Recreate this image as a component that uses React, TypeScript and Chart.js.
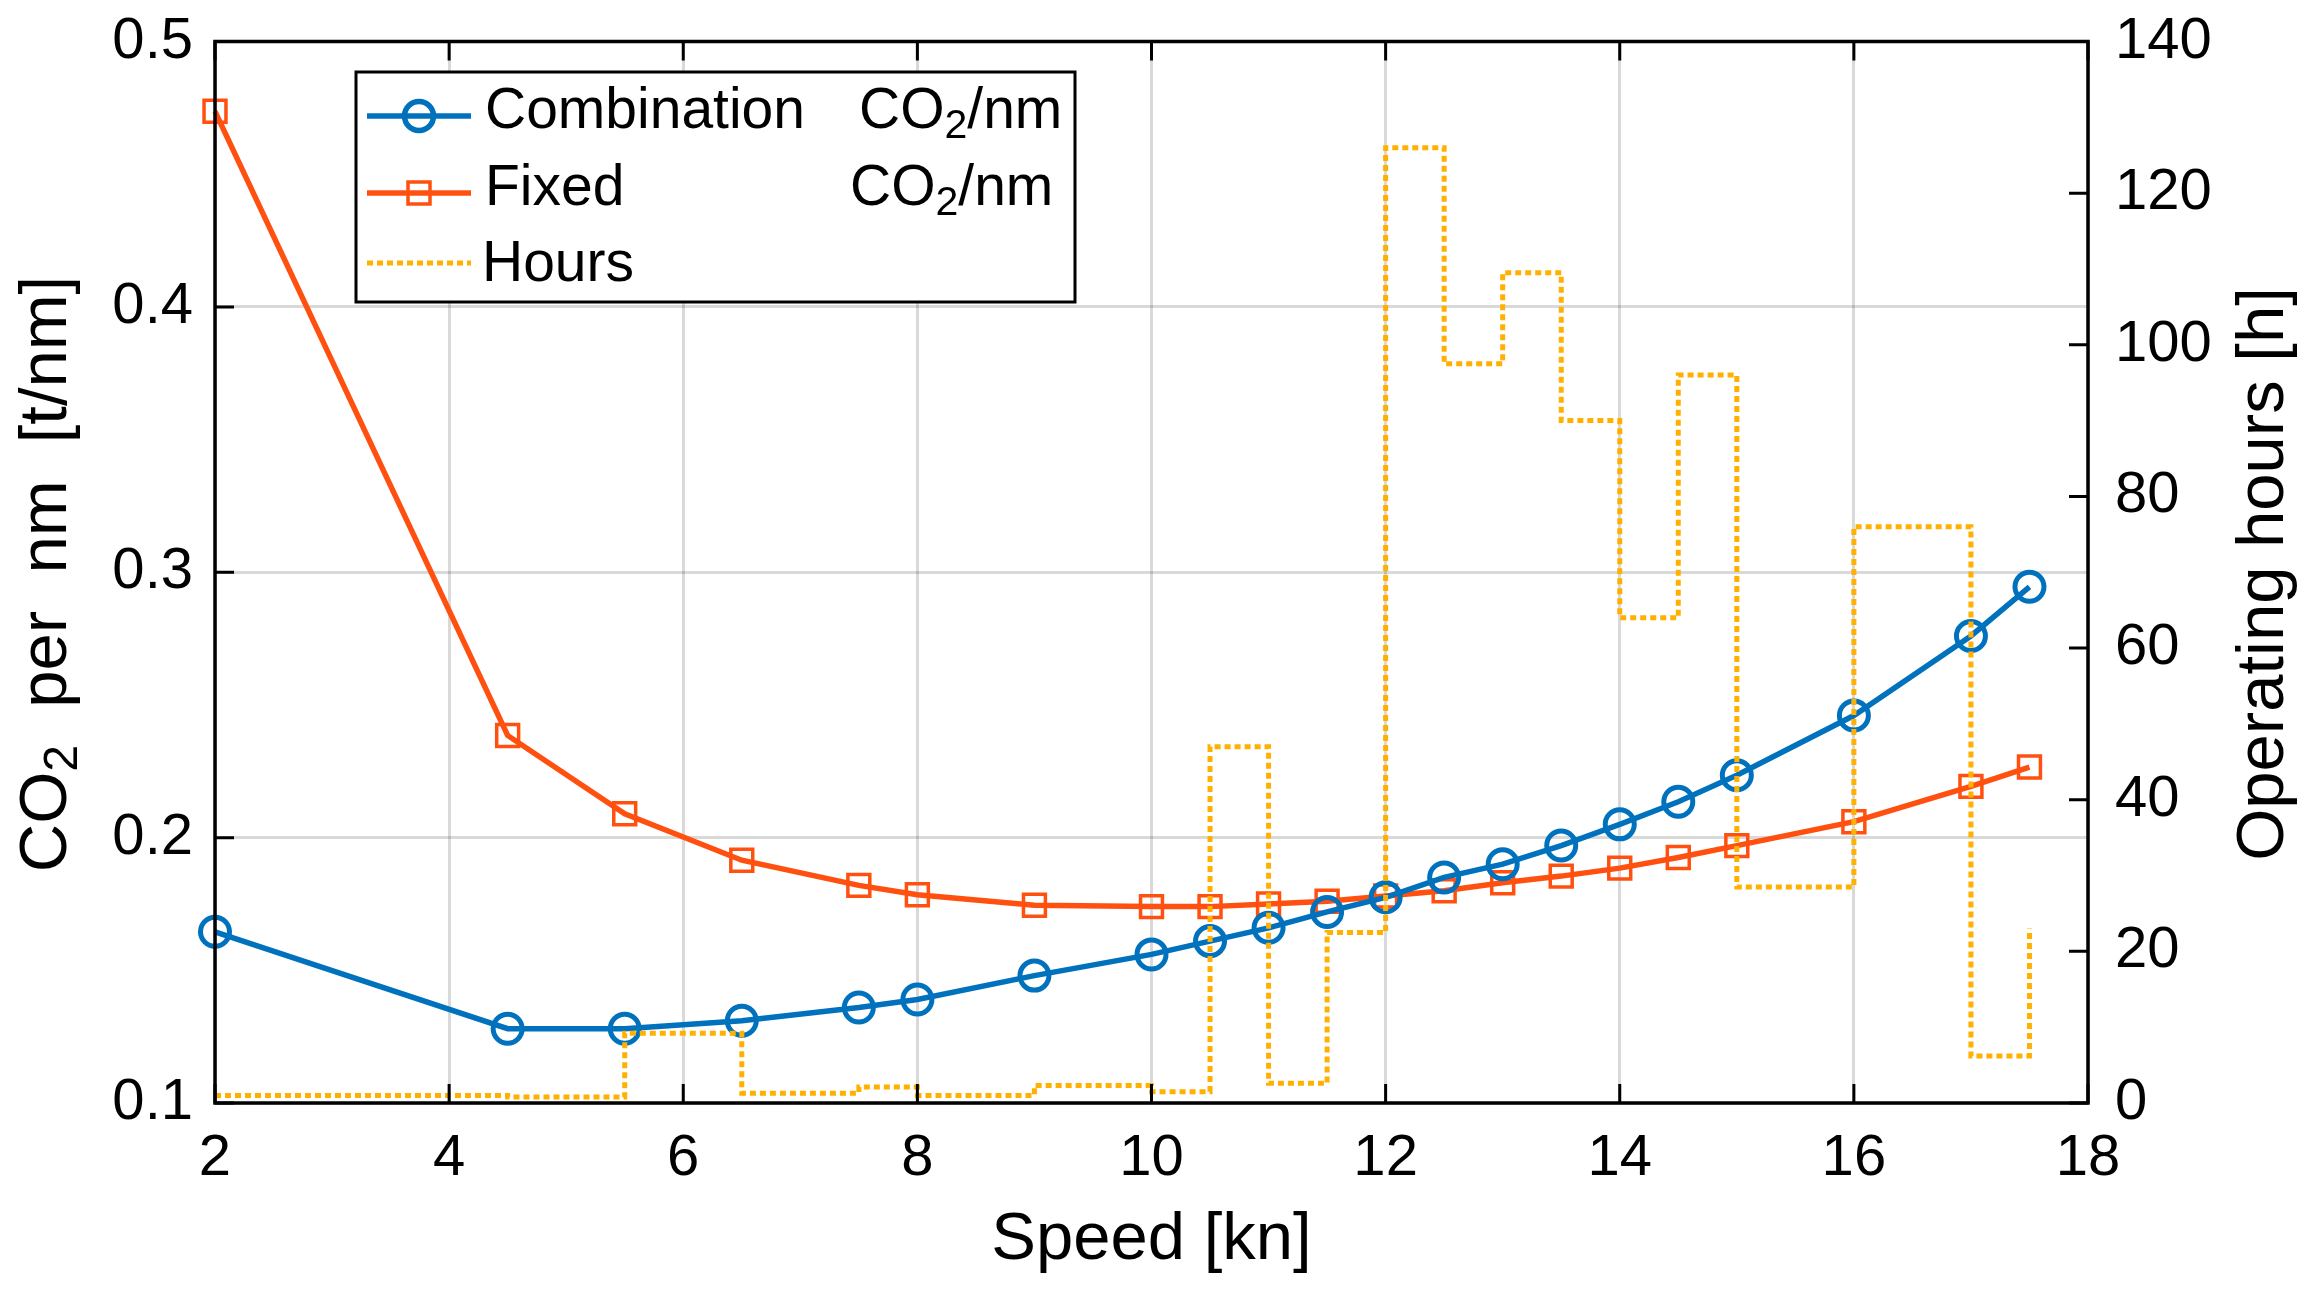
import { useEffect, useRef } from 'react'
import { Chart, registerables } from 'chart.js'

Chart.register(...registerables)

// speed [kn] at which each sample was taken
const speeds = [2, 4.5, 5.5, 6.5, 7.5, 8, 9, 10, 10.5, 11, 11.5, 12, 12.5, 13, 13.5, 14, 14.5, 15, 16, 17, 17.5]
// CO2 per nm [t/nm]
const combinationCO2 = [0.1645, 0.128, 0.128, 0.131, 0.136, 0.139, 0.148, 0.156, 0.161, 0.166, 0.172, 0.1775, 0.185, 0.19, 0.197, 0.205, 0.2135, 0.2235, 0.246, 0.276, 0.2945]
const fixedCO2 = [0.4737, 0.2385, 0.209, 0.1915, 0.182, 0.1785, 0.1745, 0.174, 0.174, 0.175, 0.176, 0.178, 0.18, 0.183, 0.1855, 0.1885, 0.1925, 0.197, 0.206, 0.2193, 0.2266]
// operating hours [h] (stairs)
const hours = [1.0, 0.8, 9.2, 1.3, 2.1, 1.0, 2.3, 1.5, 47, 2.6, 22.5, 126, 97.5, 109.5, 90, 64, 96, 28.5, 76, 6.2, 23]

const xTicks = [2, 4, 6, 8, 10, 12, 14, 16, 18]
const leftTicks = [0.1, 0.2, 0.3, 0.4, 0.5]
const rightTicks = [0, 20, 40, 60, 80, 100, 120, 140]

const BLUE = '#0072BD'
const ORANGE = '#FF5010'
const YELLOW = '#FFB000'
const FAMILY = "'Liberation Sans', Arial, Helvetica, sans-serif"

type Part = [string, boolean?]

// draws text with optional subscript parts on baseline y
function drawParts(ctx: CanvasRenderingContext2D, parts: Part[], x: number, y: number, size: number, align: 'left' | 'center') {
  const subSize = size * 0.72
  const widths = parts.map(([t, sub]) => {
    ctx.font = `${sub ? subSize : size}px ${FAMILY}`
    return ctx.measureText(t).width
  })
  const total = widths.reduce((a, b) => a + b, 0)
  let cx = align === 'center' ? x - total / 2 : x
  ctx.textAlign = 'left'
  ctx.textBaseline = 'alphabetic'
  parts.forEach(([t, sub], i) => {
    ctx.font = `${sub ? subSize : size}px ${FAMILY}`
    ctx.fillText(t, cx, sub ? y + size * 0.17 : y)
    cx += widths[i]
  })
}

const framePlugin = {
  id: 'frame',
  afterDatasetsDraw(chart: any) {
    const { ctx, chartArea: a, scales } = chart
    ctx.save()
    ctx.strokeStyle = '#000'
    ctx.lineWidth = 3
    const tl = 19
    ctx.beginPath()
    xTicks.forEach((v) => {
      const px = scales.x.getPixelForValue(v)
      ctx.moveTo(px, a.bottom)
      ctx.lineTo(px, a.bottom - tl)
      ctx.moveTo(px, a.top)
      ctx.lineTo(px, a.top + tl)
    })
    leftTicks.forEach((v) => {
      const py = scales.y.getPixelForValue(v)
      ctx.moveTo(a.left, py)
      ctx.lineTo(a.left + tl, py)
    })
    rightTicks.forEach((v) => {
      const py = scales.y1.getPixelForValue(v)
      ctx.moveTo(a.right, py)
      ctx.lineTo(a.right - tl, py)
    })
    ctx.stroke()
    ctx.lineWidth = 3.5
    ctx.strokeRect(a.left, a.top, a.right - a.left, a.bottom - a.top)
    ctx.restore()
  },
  afterDraw(chart: any) {
    const { ctx, chartArea: a } = chart
    ctx.save()
    ctx.fillStyle = '#000'

    // axis titles
    drawParts(ctx, [['Speed [kn]']], (a.left + a.right) / 2, 1259, 67, 'center')

    ctx.save()
    ctx.translate(66, 574)
    ctx.rotate(-Math.PI / 2)
    drawParts(ctx, [['CO'], ['2', true], ['  per  nm  [t/nm]']], 0, 0, 67, 'center')
    ctx.restore()

    ctx.save()
    ctx.translate(2283, 574)
    ctx.rotate(-Math.PI / 2)
    drawParts(ctx, [['Operating hours [h]']], 0, 0, 67, 'center')
    ctx.restore()

    // legend
    const lx = 356, ly = 72, lw = 719, lh = 230
    ctx.fillStyle = '#fff'
    ctx.fillRect(lx, ly, lw, lh)
    ctx.strokeStyle = '#000'
    ctx.lineWidth = 3
    ctx.strokeRect(lx, ly, lw, lh)

    const rows = [116, 193, 263]
    const bases = [128, 205, 281]

    ctx.lineWidth = 5.5
    ctx.strokeStyle = BLUE
    ctx.beginPath()
    ctx.moveTo(367, rows[0])
    ctx.lineTo(471, rows[0])
    ctx.stroke()
    ctx.beginPath()
    ctx.arc(419, rows[0], 14.5, 0, Math.PI * 2)
    ctx.stroke()

    ctx.strokeStyle = ORANGE
    ctx.beginPath()
    ctx.moveTo(367, rows[1])
    ctx.lineTo(471, rows[1])
    ctx.stroke()
    ctx.lineWidth = 3.5
    ctx.strokeRect(419 - 11, rows[1] - 11, 22, 22)

    ctx.strokeStyle = YELLOW
    ctx.lineWidth = 5
    ctx.setLineDash([6, 4])
    ctx.beginPath()
    ctx.moveTo(367, rows[2])
    ctx.lineTo(471, rows[2])
    ctx.stroke()
    ctx.setLineDash([])

    ctx.fillStyle = '#000'
    drawParts(ctx, [['Combination']], 485, bases[0], 57, 'left')
    drawParts(ctx, [['CO'], ['2', true], ['/nm']], 859, bases[0], 57, 'left')
    drawParts(ctx, [['Fixed']], 485, bases[1], 57, 'left')
    drawParts(ctx, [['CO'], ['2', true], ['/nm']], 850, bases[1], 57, 'left')
    drawParts(ctx, [['Hours']], 482, bases[2], 57, 'left')
    ctx.restore()
  }
}

export default function App() {
  const canvasRef = useRef<HTMLCanvasElement>(null)

  useEffect(() => {
    document.body.style.margin = '0'
    if (!canvasRef.current) return
    const tickFont = { family: FAMILY, size: 58 }
    const yTickFont = { family: FAMILY, size: 58, lineHeight: 0.5 }
    const grid = { color: 'rgba(0,0,0,0.15)', lineWidth: 3, drawTicks: false }

    const chart = new Chart(canvasRef.current, {
      type: 'line',
      data: {
        datasets: [
          {
            label: 'Combination CO2/nm',
            data: speeds.map((s, i) => ({ x: s, y: combinationCO2[i] })),
            yAxisID: 'y',
            borderColor: BLUE,
            borderWidth: 5.5,
            pointStyle: 'circle',
            pointRadius: 14.5,
            pointBorderWidth: 5,
            pointBorderColor: BLUE,
            pointBackgroundColor: 'rgba(0,0,0,0)',
            clip: false,
            order: 1
          },
          {
            label: 'Fixed CO2/nm',
            data: speeds.map((s, i) => ({ x: s, y: fixedCO2[i] })),
            yAxisID: 'y',
            borderColor: ORANGE,
            borderWidth: 5.5,
            pointStyle: 'rect',
            pointRadius: 15.5,
            pointBorderWidth: 3.5,
            pointBorderColor: ORANGE,
            pointBackgroundColor: 'rgba(0,0,0,0)',
            clip: false,
            order: 2
          },
          {
            label: 'Hours',
            data: speeds.map((s, i) => ({ x: s, y: hours[i] })),
            yAxisID: 'y1',
            borderColor: YELLOW,
            borderWidth: 5,
            borderDash: [6, 4],
            stepped: 'before',
            pointRadius: 0,
            clip: false,
            order: 0
          }
        ]
      },
      options: {
        responsive: false,
        animation: false,
        devicePixelRatio: 1,
        layout: { padding: { top: 40, left: 0, right: 0, bottom: 0 } },
        plugins: {
          legend: { display: false },
          tooltip: { enabled: false }
        },
        scales: {
          x: {
            type: 'linear',
            min: xTicks[0],
            max: xTicks[xTicks.length - 1],
            afterBuildTicks: (s: any) => { s.ticks = xTicks.map((v) => ({ value: v })) },
            afterFit: (s: any) => { s.height = 188 },
            grid,
            border: { display: false },
            ticks: { font: tickFont, color: '#000', padding: 21, autoSkip: false, maxRotation: 0 }
          },
          y: {
            type: 'linear',
            position: 'left',
            min: leftTicks[0],
            max: leftTicks[leftTicks.length - 1],
            afterBuildTicks: (s: any) => { s.ticks = leftTicks.map((v) => ({ value: v })) },
            afterFit: (s: any) => { s.width = 215 },
            grid,
            border: { display: false },
            ticks: { font: yTickFont, color: '#000', padding: 22, callback: (v: any) => Number(v).toFixed(1) }
          },
          y1: {
            type: 'linear',
            position: 'right',
            min: rightTicks[0],
            max: rightTicks[rightTicks.length - 1],
            afterBuildTicks: (s: any) => { s.ticks = rightTicks.map((v) => ({ value: v })) },
            afterFit: (s: any) => { s.width = 225 },
            grid: { display: false, drawTicks: false },
            border: { display: false },
            ticks: { font: yTickFont, color: '#000', padding: 27 }
          }
        }
      },
      plugins: [framePlugin]
    } as any)

    return () => chart.destroy()
  }, [])

  return (
    <div style={{ width: 2313, height: 1291, background: '#fff' }}>
      <canvas ref={canvasRef} width={2313} height={1291}></canvas>
    </div>
  )
}
